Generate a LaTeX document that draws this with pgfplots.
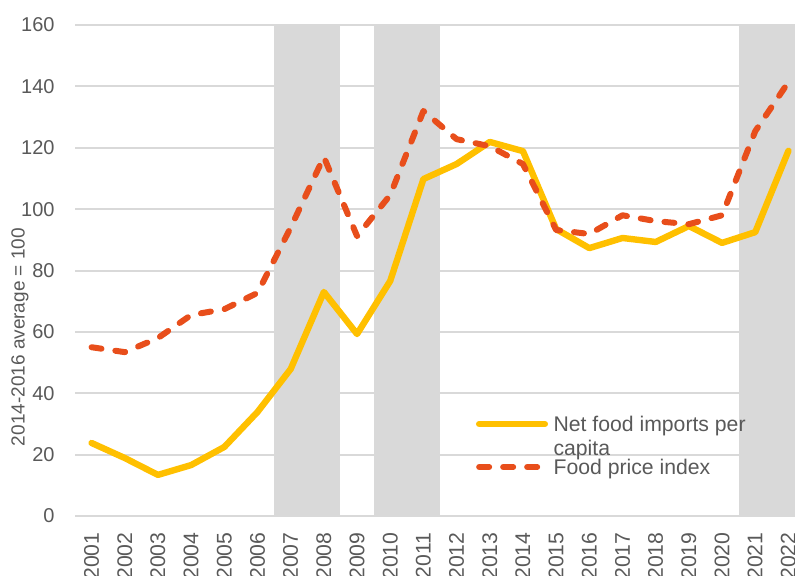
\documentclass[border=0pt]{standalone}
\usepackage{fontspec}
\setmainfont{Liberation Sans}
\usepackage{pgfplots}
\pgfplotsset{compat=1.18}
\definecolor{gridc}{HTML}{D9D9D9}
\definecolor{bandc}{HTML}{D9D9D9}
\definecolor{tickc}{HTML}{595959}
\definecolor{yel}{HTML}{FFC000}
\definecolor{ora}{HTML}{E84E1B}
\begin{document}
\begin{tikzpicture}
\begin{axis}[
  at={(0,0)}, anchor=south west,
  scale only axis, width=365pt, height=245.5pt,
  xmin=2000.5, xmax=2022.5, ymin=0, ymax=160,
  xtick={2001,...,2022}, ytick={0,20,...,160},
  /pgf/number format/1000 sep={},
  /pgf/number format/assume math mode=true,
  axis line style={draw=none},
  major tick length=0pt,
  ymajorgrids, grid style={gridc, line width=1pt},
  tick label style={font=\fontsize{10}{12}\selectfont, text=tickc},
  xticklabel style={rotate=90, anchor=east, inner xsep=8pt, inner ysep=0pt, font=\fontsize{10.6}{12}\selectfont},
  yticklabel style={anchor=east, inner xsep=10pt, inner ysep=0pt},
  ylabel={2014-2016 average = 100},
  ylabel style={at={(axis description cs:-0.0753,0.3646)}, anchor=center, font=\fontsize{9.5}{11}\selectfont, text=tickc},
  clip=true,
]
\fill[bandc] (axis cs:2006.5,0) rectangle (axis cs:2008.5,160);
\fill[bandc] (axis cs:2009.5,0) rectangle (axis cs:2011.5,160);
\fill[bandc] (axis cs:2020.5,0) rectangle (axis cs:2022.5,160);
\addplot[yel, line width=3.2pt, line join=round, line cap=round] coordinates {
(2001,23.8) (2002,18.9) (2003,13.4) (2004,16.6) (2005,22.5) (2006,33.9)
(2007,47.9) (2008,73.0) (2009,59.3) (2010,76.6) (2011,109.8) (2012,114.7)
(2013,121.9) (2014,118.9) (2015,93.5) (2016,87.3) (2017,90.6) (2018,89.3)
(2019,94.5) (2020,89.0) (2021,92.5) (2022,119.0)};
\addplot[ora, line width=3pt, line join=round, line cap=round, dash pattern=on 5pt off 7pt] coordinates {
(2001,55.0) (2002,53.4) (2003,58.0) (2004,65.5) (2005,67.4) (2006,72.7)
(2007,94.0) (2008,117.0) (2009,91.2) (2010,104.6) (2011,132.0) (2012,122.8)
(2013,120.5) (2014,114.7) (2015,93.2) (2016,91.9) (2017,98.0) (2018,96.1)
(2019,95.1) (2020,98.0) (2021,125.4) (2022,141.4)};
% legend
\draw[yel, line width=3.2pt, line cap=round] (axis cs:2012.68,29.98) -- (axis cs:2014.66,29.98);
\draw[ora, line width=3pt, line cap=round, dash pattern=on 5pt off 7pt] (axis cs:2012.68,15.97) -- (axis cs:2014.6,15.97);
\node[anchor=base west, inner sep=0pt, text=tickc, font=\fontsize{10.6}{12}\selectfont] at (axis cs:2014.91,27.47) {Net food imports per};
\node[anchor=base west, inner sep=0pt, text=tickc, font=\fontsize{10.6}{12}\selectfont] at (axis cs:2014.91,19.88) {capita};
\node[anchor=base west, inner sep=0pt, text=tickc, font=\fontsize{10.6}{12}\selectfont] at (axis cs:2014.91,13.69) {Food price index};
\end{axis}
\pgfresetboundingbox
\path[use as bounding box] (-37.5pt,-29.5pt) rectangle (360pt,258pt);
\end{tikzpicture}
\end{document}
